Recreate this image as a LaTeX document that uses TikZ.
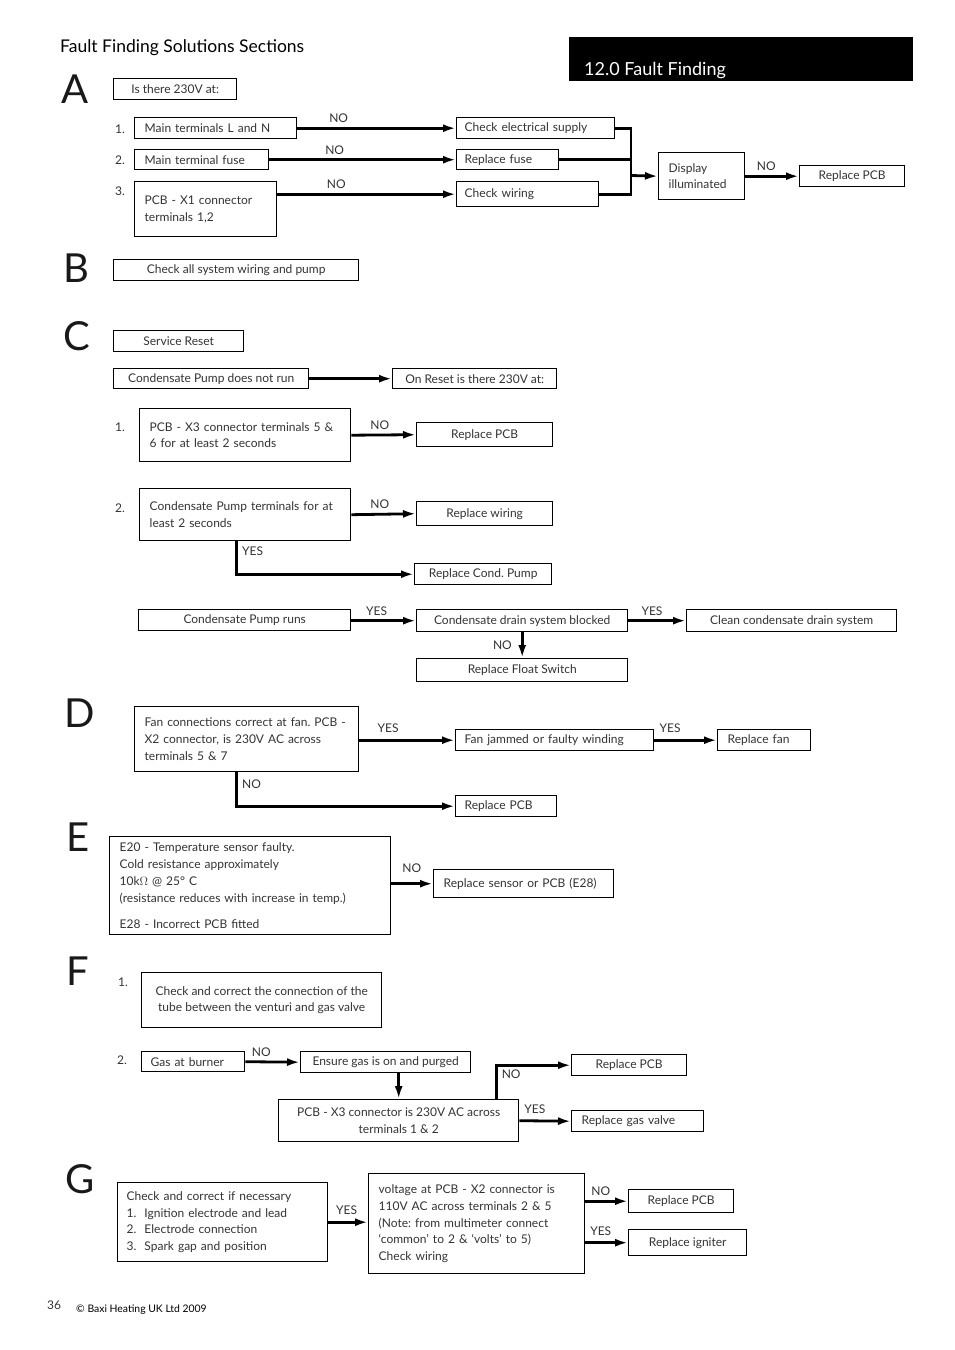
\documentclass[tikz,border=0pt]{standalone}
\usepackage{fontspec}
\setmainfont{Lato}
\usetikzlibrary{arrows.meta}
\frenchspacing

\begin{document}
\begin{tikzpicture}[x=1pt,y=-1pt,
	font=\fontsize{12}{16.8}\selectfont,
	box/.style={draw, line width=1.4pt, anchor=north west, inner sep=0pt, align=center, text=black!80},
	arr/.style={line width=2.8pt, -{Latex[length=13pt,width=8pt]}},
	wire/.style={line width=2.8pt},
	lab/.style={above, inner sep=0pt, yshift=4pt, text=black!80},
	side/.style={inner sep=4pt, text=black!80},
	sec/.style={anchor=base west, inner sep=0pt, font=\fontsize{40}{40}\selectfont, text=black!90},
	num/.style={anchor=base west, inner sep=0pt, text=black!80}]
	\useasboundingbox (0,0) rectangle (954,1350);

	% heading
	\node[anchor=base west, inner sep=0pt, font=\fontsize{17.5}{18}\selectfont] (head) at (60,52) {Fault Finding Solutions Sections};
	\fill (569,37) rectangle (913,81);
	\node[anchor=base west, inner sep=0pt, text=white, font=\fontsize{18}{18}\selectfont] (chap) at (584,75) {12.0 Fault Finding};

	% A
	\node[sec] (secA) at (61,103) {A};
	\node[box, minimum width=123, minimum height=21] (qVolt) at (113,78) {Is there 230V at:};
	\node[num] (nAone) at (115,133) {1.};
	\node[num] (nAtwo) at (115,164) {2.};
	\node[num] (nAthree) at (115,195) {3.};
	\node[box, minimum width=162, minimum height=21, text width=142, align=left] (mainLN) at (134,117) {Main terminals L and N};
	\node[box, minimum width=134, minimum height=20, text width=114, align=left] (mainFuse) at (134,149) {Main terminal fuse};
	\node[box, minimum width=142, minimum height=55, text width=122, align=left] (pcbXone) at (134,181) {PCB - X1 connector\\terminals 1,2};
	\node[box, minimum width=158, minimum height=21, text width=142, align=left] (chkSupply) at (456,117) {Check electrical supply};
	\node[box, minimum width=102, minimum height=20, text width=86, align=left] (repFuse) at (456,149) {Replace fuse};
	\node[box, minimum width=142, minimum height=25, text width=126, align=left] (chkWiring) at (456,181) {Check wiring};
	\node[box, minimum width=86, minimum height=47, text width=66, align=left] (display) at (658,152) {Display\\illuminated};
	\node[box, minimum width=105, minimum height=21] (repPcbA) at (799,165) {Replace PCB};

	\draw[arr] (mainLN.east) -- node[lab, pos=.26] (noAone) {NO} (chkSupply.west);
	\draw[arr] (mainFuse.east) -- node[lab, pos=.35] (noAtwo) {NO} (repFuse.west);
	\draw[arr] (chkWiring.west -| pcbXone.east) -- node[lab, pos=.33] (noAthree) {NO} (chkWiring.west);
	\coordinate (joinA) at (631,175.5);
	\draw[wire] (chkSupply.east) -| (joinA);
	\draw[wire] (chkWiring.east) -| (joinA);
	\draw[wire] (repFuse.east) -- (repFuse.east -| joinA);
	\draw[arr] (joinA) -- (display.west);
	\draw[arr] (display.east) -- node[lab, pos=.39] (noAfour) {NO} (repPcbA.west);

	% B
	\node[sec] (secB) at (63,282) {B};
	\node[box, minimum width=245, minimum height=21] (chkAll) at (113,259) {Check all system wiring and pump};

	% C
	\node[sec] (secC) at (63,350) {C};
	\node[box, minimum width=130, minimum height=21] (srvReset) at (113,330) {Service Reset};
	\node[box, minimum width=195, minimum height=20] (pumpNot) at (113,368) {Condensate Pump does not run};
	\node[box, minimum width=164, minimum height=20] (onReset) at (392,368) {On Reset is there 230V at:};
	\draw[arr] (pumpNot.east) -- (onReset.west);

	\node[num] (nCone) at (115,431) {1.};
	\node[box, minimum width=211, minimum height=53, text width=191, align=left] (pcbXthree) at (139,408) {PCB - X3 connector terminals 5 \&\\6 for at least 2 seconds};
	\node[box, minimum width=136, minimum height=24] (repPcbC) at (416,422) {Replace PCB};
	\draw[arr] (pcbXthree.east) -- node[lab, pos=.44] (noCone) {NO} (repPcbC.west);

	\node[num] (nCtwo) at (115,512) {2.};
	\node[box, minimum width=211, minimum height=52, text width=191, align=left] (pumpTerm) at (139,488) {Condensate Pump terminals for at\\least 2 seconds};
	\node[box, minimum width=136, minimum height=24] (repWiring) at (416,501) {Replace wiring};
	\draw[arr] (pumpTerm.east) -- node[lab, pos=.44] (noCtwo) {NO} (repWiring.west);
	\node[box, minimum width=137, minimum height=21] (repPump) at (414,563) {Replace Cond. Pump};
	\draw[arr] ([xshift=-8.5pt]pumpTerm.south) |- node[side, pos=.15, right] (yesCone) {YES} (repPump.west);

	\node[box, minimum width=212, minimum height=21] (pumpRuns) at (138,609) {Condensate Pump runs};
	\node[box, minimum width=211, minimum height=22] (drain) at (416,609) {Condensate drain system blocked};
	\node[box, minimum width=210, minimum height=22] (cleanDrain) at (686,609) {Clean condensate drain system};
	\node[box, minimum width=211, minimum height=23] (floatSw) at (416,658) {Replace Float Switch};
	\draw[arr] (pumpRuns.east |- drain.west) -- node[lab, pos=.39] (yesCtwo) {YES} (drain.west);
	\draw[arr] (drain.east) -- node[lab, pos=.41] (yesCthree) {YES} (cleanDrain.west);
	\draw[arr] (drain.south) -- node[side, left, inner xsep=9pt] (noCthree) {NO} (floatSw.north);

	% D
	\node[sec] (secD) at (64,727) {D};
	\node[box, minimum width=224, minimum height=65, text width=204, align=left] (fanConn) at (134,706) {Fan connections correct at fan. PCB -\\X2 connector, is 230V AC across\\terminals 5 \& 7};
	\node[box, minimum width=198, minimum height=21, text width=180, align=left] (fanJam) at (455,729) {Fan jammed or faulty winding};
	\node[box, minimum width=93, minimum height=21, text width=73, align=left] (repFan) at (717,729) {Replace fan};
	\node[box, minimum width=101, minimum height=21, text width=83, align=left] (repPcbD) at (455,795) {Replace PCB};
	\draw[arr] (fanJam.west -| fanConn.east) -- node[lab, pos=.3, yshift=2pt] (yesDone) {YES} (fanJam.west);
	\draw[arr] (fanJam.east) -- node[lab, pos=.25, yshift=2pt] (yesDtwo) {YES} (repFan.west);
	\draw[arr] ([xshift=-10pt]fanConn.south) |- node[side, pos=.18, right] (noDone) {NO} (repPcbD.west);

	% E
	\node[sec] (secE) at (66,851) {E};
	\node[box, minimum width=281, minimum height=98, text width=261, align=left] (sensor) at (109,836) {E20 - Temperature sensor faulty.\\Cold resistance approximately\\10k$\Omega$ @ 25° C\\(resistance reduces with increase in temp.)\\[9pt]E28 - Incorrect PCB fitted};
	\node[box, minimum width=180, minimum height=28, text width=160, align=left] (repSensor) at (433,869) {Replace sensor or PCB (E28)};
	\draw[arr] (repSensor.west -| sensor.east) -- node[lab, pos=.49, yshift=6pt] (noE) {NO} (repSensor.west);

	% F
	\node[sec] (secF) at (66,985) {F};
	\node[num] (nFone) at (118,986) {1.};
	\node[box, minimum width=240, minimum height=55] (tube) at (141,972) {Check and correct the connection of the\\tube between the venturi and gas valve};
	\node[num] (nFtwo) at (117,1064) {2.};
	\node[box, minimum width=103, minimum height=20, text width=85, align=left] (gasBurner) at (141,1051) {Gas at burner};
	\node[box, minimum width=170, minimum height=21] (ensureGas) at (300,1051) {Ensure gas is on and purged};
	\node[box, minimum width=240, minimum height=42] (pcbF) at (278,1099) {PCB - X3 connector is 230V AC across\\terminals 1 \& 2};
	\node[box, minimum width=115, minimum height=21] (repPcbF) at (571,1054) {Replace PCB};
	\node[box, minimum width=132, minimum height=21, text width=112, align=left] (repValve) at (571,1110) {Replace gas valve};
	\draw[arr] (gasBurner.east) -- node[lab, pos=.29] (noFone) {NO} (ensureGas.west);
	\draw[arr] (pcbF.north |- ensureGas.south) -- (pcbF.north);
	\draw[arr] ([xshift=-23pt]pcbF.north east) |- node[side, pos=.37, right] (noFtwo) {NO} (repPcbF.west);
	\draw[arr] (pcbF.east) -- node[lab, pos=.3, yshift=2pt] (yesF) {YES} (repValve.west);

	% G
	\node[sec] (secG) at (65,1193) {G};
	\node[box, minimum width=210, minimum height=79, text width=192, align=left] (ignCheck) at (117,1182) {Check and correct if necessary\\1.\ \ Ignition electrode and lead\\2.\ \ Electrode connection\\3.\ \ Spark gap and position};
	\node[box, minimum width=216, minimum height=100, text width=196, align=left] (voltX) at (368,1173) {voltage at PCB - X2 connector is\\110V AC across terminals 2 \& 5\\(Note: from multimeter connect\\`common' to 2 \& `volts' to 5)\\Check wiring};
	\node[box, minimum width=105, minimum height=23] (repPcbG) at (628,1189) {Replace PCB};
	\node[box, minimum width=118, minimum height=26] (repIgn) at (628,1229) {Replace igniter};
	\draw[arr] (ignCheck.east) -- node[lab, pos=.46, yshift=2pt] (yesGone) {YES} (ignCheck.east -| voltX.west);
	\draw[arr] (repPcbG.west -| voltX.east) -- node[lab, pos=.36] (noG) {NO} (repPcbG.west);
	\draw[arr] (repIgn.west -| voltX.east) -- node[lab, pos=.36, yshift=2pt] (yesGtwo) {YES} (repIgn.west);

	% footer
	\node[anchor=base west, inner sep=0pt, font=\fontsize{12}{12}\selectfont, text=black!80] (pageNo) at (47,1309) {36};
	\node[anchor=base west, inner sep=0pt, font=\fontsize{10.4}{11}\selectfont] (copyNote) at (76,1312) {© Baxi Heating UK Ltd 2009};
\end{tikzpicture}
\end{document}
